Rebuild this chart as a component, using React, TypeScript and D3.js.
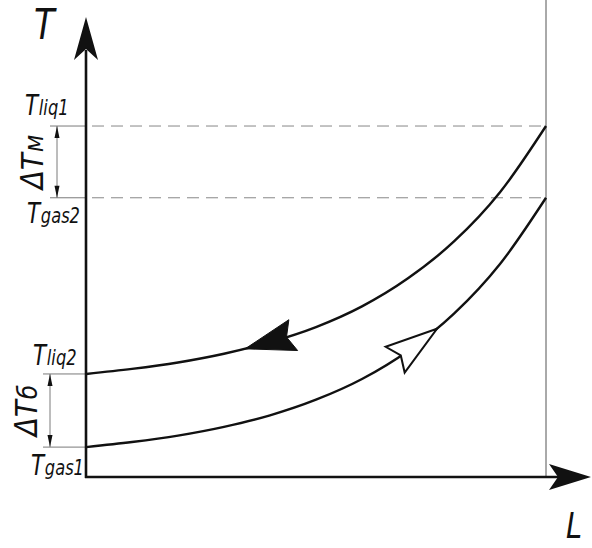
import React, { useEffect, useRef } from "react";
import * as d3 from "d3";

// Length along the heat exchanger (relative units, 0..100)
const lengthPoints = [0, 10, 20, 30, 40, 50, 60, 70, 80, 90, 100];
// Liquid temperature profile (flows from right to left)
const liquidTemps = [22.4, 23.5, 24.9, 26.8, 29.3, 32.6, 37.1, 43.2, 51.2, 61.9, 76.3];
// Gas temperature profile (flows from left to right)
const gasTemps = [6.5, 7.6, 9.0, 10.9, 13.4, 16.8, 21.3, 27.4, 35.5, 46.3, 60.7];

// Named temperature levels on the T axis
const levelNames = ["liq1", "gas2", "liq2", "gas1"];
const levelValues = [76.3, 60.7, 22.4, 6.5];

// Temperature differences shown as dimensions
const diffNames = ["м", "б"];
const diffUpper = [76.3, 22.4];
const diffLower = [60.7, 6.5];

const W = 592;
const H = 548;
const FONT = "'DejaVu Sans', 'Liberation Sans', sans-serif";

export default function App() {
  const ref = useRef<SVGSVGElement | null>(null);

  useEffect(() => {
    const svg = d3.select(ref.current);
    svg.selectAll("*").remove();

    const x = d3.scaleLinear().domain([0, 100]).range([86, 546]);
    const y = d3.scaleLinear().domain([0, 100]).range([477, 17]);
    const x0 = x(0);
    const y0 = y(0);

    const thin = "#7a7a7a";
    const ink = "#111";

    // right boundary of the exchanger
    svg.append("line")
      .attr("x1", x(100)).attr("x2", x(100))
      .attr("y1", 0).attr("y2", y0)
      .attr("stroke", "#555").attr("stroke-width", 1);

    // level lines: extension to the left of the axis, dashed to the right for upper ones
    levelValues.forEach((v, i) => {
      const left = i < 2 ? 50 : 43;
      svg.append("line")
        .attr("x1", left).attr("x2", x0)
        .attr("y1", y(v)).attr("y2", y(v))
        .attr("stroke", thin).attr("stroke-width", 1);
      if (i < 2) {
        svg.append("line")
          .attr("x1", x0 + 6).attr("x2", x(100))
          .attr("y1", y(v)).attr("y2", y(v))
          .attr("stroke", "#888").attr("stroke-width", 1)
          .attr("stroke-dasharray", "12 7");
      }
    });

    // level labels (narrow italic lettering)
    const labelPos = [
      { lx: 25, by: 115 },
      { lx: 27, by: 223 },
      { lx: 33, by: 365 },
      { lx: 31, by: 475 },
    ];
    levelNames.forEach((name, i) => {
      const t = svg.append("text")
        .attr("transform", `translate(${labelPos[i].lx},${labelPos[i].by}) scale(0.74,1)`)
        .attr("font-family", FONT).attr("font-style", "italic")
        .attr("fill", ink);
      t.append("tspan").attr("font-size", 29).text("T");
      t.append("tspan").attr("font-size", 22).attr("dx", 1).text(name);
    });

    // dimension lines with small arrowheads
    const dimX = [57, 50];
    const dimCenters = [32, 26];
    diffNames.forEach((name, i) => {
      const xa = dimX[i];
      const ya = y(diffUpper[i]);
      const yb = y(diffLower[i]);
      svg.append("line")
        .attr("x1", xa).attr("x2", xa).attr("y1", ya).attr("y2", yb)
        .attr("stroke", thin).attr("stroke-width", 1);
      svg.append("path")
        .attr("d", `M${xa},${ya} L${xa - 2.5},${ya + 12} L${xa + 2.5},${ya + 12} Z`)
        .attr("fill", ink);
      svg.append("path")
        .attr("d", `M${xa},${yb} L${xa - 2.5},${yb - 12} L${xa + 2.5},${yb - 12} Z`)
        .attr("fill", ink);
      const cy = (ya + yb) / 2;
      const t = svg.append("text")
        .attr("transform", `translate(${dimCenters[i] + 11},${cy}) rotate(-90) scale(0.9,1)`)
        .attr("text-anchor", "middle")
        .attr("font-family", FONT).attr("font-style", "italic")
        .attr("fill", ink);
      t.append("tspan").attr("font-size", 31).text("ΔT");
      t.append("tspan").attr("font-size", 26).attr("dx", 1).text(name);
    });

    // temperature profiles
    const line = d3.line<number>()
      .x((_, i) => x(lengthPoints[i]))
      .y((d) => y(d))
      .curve(d3.curveMonotoneX);

    const liqPath = svg.append("path")
      .attr("d", line(liquidTemps) as string)
      .attr("fill", "none").attr("stroke", ink).attr("stroke-width", 2.4);
    const gasPath = svg.append("path")
      .attr("d", line(gasTemps) as string)
      .attr("fill", "none").attr("stroke", ink).attr("stroke-width", 2.4);

    // flow direction arrowheads placed along the curves
    const lengthAtX = (node: SVGPathElement, px: number) => {
      let lo = 0;
      let hi = node.getTotalLength();
      for (let k = 0; k < 40; k++) {
        const mid = (lo + hi) / 2;
        if (node.getPointAtLength(mid).x < px) lo = mid; else hi = mid;
      }
      return (lo + hi) / 2;
    };
    const flowArrow = (node: SVGPathElement, tipL: number, back: number, fill: string) => {
      const s = lengthAtX(node, x(tipL));
      const tip = node.getPointAtLength(s);
      const b = node.getPointAtLength(s + back);
      const dx = b.x - tip.x;
      const dy = b.y - tip.y;
      const len = Math.hypot(dx, dy);
      const ux = dx / len;
      const uy = dy / len;
      const nx = -uy;
      const ny = ux;
      const hw = 16;
      const notch = len - 7;
      const c1 = [b.x + nx * hw, b.y + ny * hw];
      const c2 = [b.x - nx * hw, b.y - ny * hw];
      const nn = [tip.x + ux * notch, tip.y + uy * notch];
      svg.append("path")
        .attr("d", `M${tip.x},${tip.y} L${c1[0]},${c1[1]} L${nn[0]},${nn[1]} L${c2[0]},${c2[1]} Z`)
        .attr("fill", fill)
        .attr("stroke", ink)
        .attr("stroke-width", fill === "white" ? 2 : 1)
        .attr("stroke-linejoin", "miter");
    };
    flowArrow(liqPath.node() as SVGPathElement, 34.6, 50, ink);
    flowArrow(gasPath.node() as SVGPathElement, 76.3, -52, "white");

    // axes
    svg.append("line")
      .attr("x1", x0).attr("x2", x0).attr("y1", 50).attr("y2", y0 + 1)
      .attr("stroke", ink).attr("stroke-width", 2.6);
    svg.append("line")
      .attr("x1", x0 - 1).attr("x2", 560).attr("y1", y0).attr("y2", y0)
      .attr("stroke", ink).attr("stroke-width", 2.6);
    svg.append("path")
      .attr("d", `M${x0},17 L${x0 + 12},60 L${x0},49 L${x0 - 12},60 Z`)
      .attr("fill", ink);
    svg.append("path")
      .attr("d", `M591,${y0} L549,${y0 - 13} L558,${y0} L549,${y0 + 13} Z`)
      .attr("fill", ink);

    // axis titles
    svg.append("text")
      .attr("transform", "translate(34,39) scale(0.8,1)")
      .attr("font-family", FONT).attr("font-style", "italic")
      .attr("font-size", 42).attr("fill", ink)
      .text("T");
    svg.append("text")
      .attr("transform", "translate(566,538) scale(0.8,1)")
      .attr("font-family", FONT).attr("font-style", "italic")
      .attr("font-size", 36).attr("fill", ink)
      .text("L");
  }, []);

  return (
    <svg
      ref={ref}
      width={W}
      height={H}
      viewBox={`0 0 ${W} ${H}`}
      style={{ position: "absolute", left: 0, top: 0, background: "white", display: "block" }}
    />
  );
}
